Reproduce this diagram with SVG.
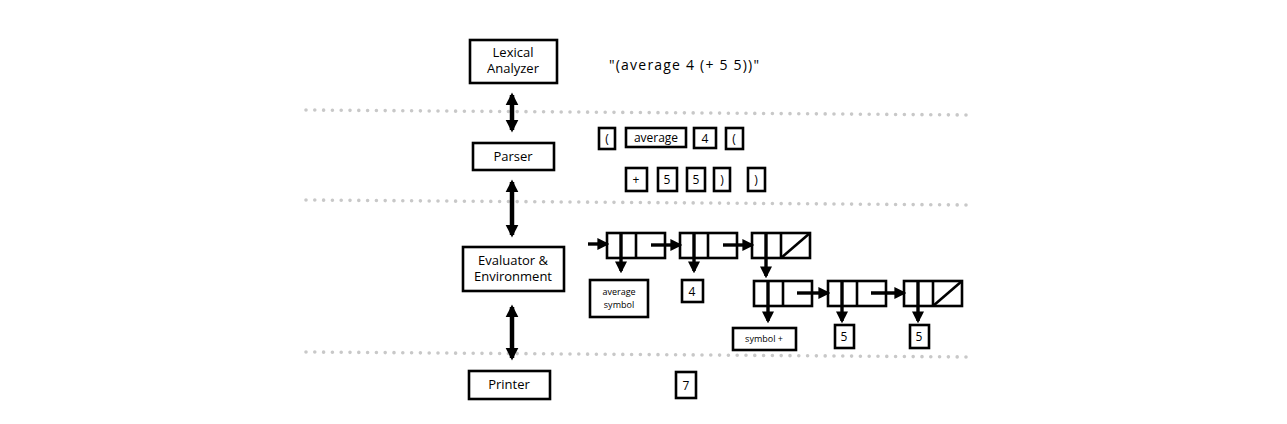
<svg xmlns="http://www.w3.org/2000/svg" width="1287" height="424" viewBox="0 0 1287 424">
<style>
.box{fill:#fff;stroke:#000;stroke-width:2.6}
.cell{fill:#fff;stroke:#000;stroke-width:2.6}
.ln{fill:none;stroke:#000;stroke-width:2.6}
.arr{fill:none;stroke:#000;stroke-width:3.4;marker-end:url(#ah)}
.dbl{fill:none;stroke:#000;stroke-width:4.5;marker-end:url(#bh);marker-start:url(#bh)}
.dots{fill:none;stroke:#c8c8c8;stroke-width:3.6;stroke-linecap:round;stroke-dasharray:0 8.8}
text{font-family:"Open Sans","Liberation Sans",sans-serif;fill:#000;text-anchor:middle}
.t{font-size:13px}
.k{font-size:12px}
.s{font-size:9px}
</style>
<defs>
<marker id="ah" viewBox="0 0 10 10" refX="8" refY="5" markerWidth="12" markerHeight="14" markerUnits="userSpaceOnUse" orient="auto"><path d="M0,0 L10,5 L0,10 z" fill="#000"/></marker>
<marker id="bh" viewBox="0 0 10 10" refX="8" refY="5" markerWidth="13" markerHeight="16" markerUnits="userSpaceOnUse" orient="auto-start-reverse"><path d="M0,0 L10,5 L0,10 z" fill="#000"/></marker>
</defs>
<rect width="1287" height="424" fill="#fff"/>
<g id="separators">
<line class="dots" x1="306" y1="110" x2="968" y2="115"/>
<line class="dots" x1="306" y1="200" x2="968" y2="205"/>
<line class="dots" x1="306" y1="352" x2="968" y2="357"/>
</g>
<g id="lexer"><rect class="box" x="470" y="40" width="87" height="43"/><text class="t" x="513" y="57">Lexical</text><text class="t" x="513" y="73">Analyzer</text></g>
<g id="parser"><rect class="box" x="473" y="143" width="81" height="27"/><text class="t" x="513" y="161">Parser</text></g>
<g id="evaluator"><rect class="box" x="463" y="247" width="101" height="44"/><text class="t" x="513" y="265">Evaluator &amp;</text><text class="t" x="513" y="281">Environment</text></g>
<g id="printer"><rect class="box" x="469" y="371" width="81" height="28"/><text class="t" x="509" y="389">Printer</text></g>
<g id="source"><text x="684" y="70" style="font-size:14px" textLength="150" lengthAdjust="spacing">"(average 4 (+ 5 5))"</text></g>
<g id="tokens">
<rect class="box" x="599" y="128" width="16" height="21"/><text class="k" x="607" y="143">(</text>
<rect class="box" x="626" y="128" width="60" height="19"/><text class="k" x="656" y="142">average</text>
<rect class="box" x="694" y="128" width="22" height="20"/><text class="k" x="705" y="143">4</text>
<rect class="box" x="726" y="128" width="17" height="21"/><text class="k" x="734" y="143">(</text>
<rect class="box" x="626" y="168" width="21" height="23"/><text class="k" x="636" y="184">+</text>
<rect class="box" x="658" y="168" width="19" height="23"/><text class="k" x="667" y="184">5</text>
<rect class="box" x="687" y="168" width="18" height="23"/><text class="k" x="696" y="184">5</text>
<rect class="box" x="714" y="168" width="16" height="23"/><text class="k" x="722" y="184">)</text>
<rect class="box" x="748" y="168" width="17" height="23"/><text class="k" x="756" y="184">)</text>
</g>
<g id="cells">
<rect class="cell" x="607" y="233" width="58" height="25"/><line class="ln" x1="636" y1="233" x2="636" y2="258"/>
<rect class="cell" x="680" y="233" width="57" height="25"/><line class="ln" x1="708" y1="233" x2="708" y2="258"/>
<rect class="cell" x="752" y="233" width="58" height="25"/><line class="ln" x1="781" y1="233" x2="781" y2="258"/><line class="ln" x1="781" y1="258" x2="810" y2="233"/>
<rect class="cell" x="754" y="281" width="58" height="25"/><line class="ln" x1="783" y1="281" x2="783" y2="306"/>
<rect class="cell" x="828" y="281" width="58" height="25"/><line class="ln" x1="857" y1="281" x2="857" y2="306"/>
<rect class="cell" x="904" y="281" width="58" height="25"/><line class="ln" x1="933" y1="281" x2="933" y2="306"/><line class="ln" x1="933" y1="306" x2="962" y2="281"/>
</g>
<g id="values">
<rect class="box" x="590" y="280" width="58" height="37"/><text class="s" x="619" y="295">average</text><text class="s" x="619" y="308">symbol</text>
<rect class="box" x="682" y="280" width="21" height="22"/><text class="k" x="692" y="296">4</text>
<rect class="box" x="733" y="328" width="63" height="22"/><text class="s" x="764" y="342">symbol +</text>
<rect class="box" x="835" y="325" width="19" height="23"/><text class="k" x="844" y="341">5</text>
<rect class="box" x="910" y="325" width="19" height="23"/><text class="k" x="919" y="341">5</text>
<rect class="box" x="676" y="372" width="20" height="26"/><text class="k" x="686" y="390">7</text>
</g>
<g id="connectors">
<line class="dbl" x1="512" y1="95" x2="512" y2="130"/>
<line class="dbl" x1="512" y1="182" x2="512" y2="235"/>
<line class="dbl" x1="512" y1="307" x2="512" y2="358"/>
<line class="arr" x1="588" y1="244" x2="607" y2="244"/>
<line class="arr" x1="651" y1="245" x2="680" y2="245"/>
<line class="arr" x1="723" y1="245" x2="752" y2="245"/>
<line class="arr" x1="797" y1="293" x2="828" y2="293"/>
<line class="arr" x1="871" y1="293" x2="904" y2="293"/>
<line class="arr" x1="621" y1="233" x2="621" y2="271"/>
<line class="arr" x1="694" y1="233" x2="694" y2="271"/>
<line class="arr" x1="766" y1="233" x2="766" y2="276"/>
<line class="arr" x1="768" y1="281" x2="768" y2="321"/>
<line class="arr" x1="842" y1="281" x2="842" y2="321"/>
<line class="arr" x1="918" y1="281" x2="918" y2="321"/>
</g>
</svg>
